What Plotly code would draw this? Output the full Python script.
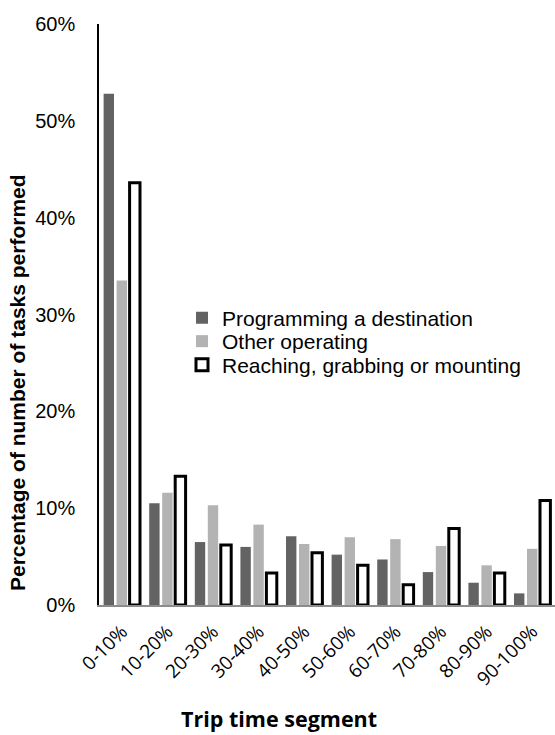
import plotly.graph_objects as go

categories = ["0-10%", "10-20%", "20-30%", "30-40%", "40-50%",
              "50-60%", "60-70%", "70-80%", "80-90%", "90-100%"]
programming = [52.8, 10.5, 6.5, 6.0, 7.1, 5.2, 4.7, 3.4, 2.3, 1.2]
other_operating = [33.5, 11.6, 10.3, 8.3, 6.3, 7.0, 6.8, 6.1, 4.1, 5.8]
reaching = [43.6, 13.3, 6.2, 3.3, 5.4, 4.1, 2.1, 7.9, 3.3, 10.8]
y_ticks = [0, 10, 20, 30, 40, 50, 60]
y_tick_labels = ["0%", "10%", "20%", "30%", "40%", "50%", "60%"]

L, T, PW, PH = 99, 24, 456, 581  # plot area in px

fig = go.Figure()
fig.add_trace(go.Bar(x=categories, y=programming, name="Programming a destination",
                     marker=dict(color="#636363", line=dict(width=0)), legend="legend"))
fig.add_trace(go.Bar(x=categories, y=other_operating, name="Other operating",
                     marker=dict(color="#b3b3b3", line=dict(width=0)), legend="legend2"))
fig.add_trace(go.Bar(x=categories, y=reaching, name="Reaching, grabbing or mounting",
                     marker=dict(color="#ffffff", line=dict(color="#000000", width=3)),
                     legend="legend3"))

def leg(ycenter):
    return dict(x=(182 - L) / PW, y=(T + PH - ycenter) / PH, xanchor="left", yanchor="middle",
                font=dict(family="Liberation Sans, Arial", size=21, color="#000"),
                bgcolor="rgba(0,0,0,0)", itemwidth=30, tracegroupgap=0)

fig.update_layout(
    width=555, height=735,
    margin=dict(l=L, r=555 - L - PW, t=T, b=735 - T - PH, autoexpand=False),
    paper_bgcolor="white", plot_bgcolor="white",
    barmode="group", bargap=0.145, bargroupgap=0.2,
    showlegend=True,
    legend=leg(318), legend2=leg(341.5), legend3=leg(365),
    font=dict(family="Liberation Sans, Arial", color="#000"),
)
fig.update_yaxes(range=[0, 60], tickvals=y_ticks, ticktext=y_tick_labels,
                 showgrid=False, zeroline=False, showline=True, linecolor="#000",
                 linewidth=1.5, ticks="", ticklabelstandoff=18, automargin=False,
                 tickfont=dict(family="Liberation Sans, Arial", size=20, color="#000"))
fig.update_xaxes(showgrid=False, showline=True, linecolor="#8c8c8c", linewidth=2,
                 ticks="", tickangle=-45, ticklabelstandoff=6, automargin=False,
                 tickfont=dict(family="Open Sans", size=19, color="#000"))

fig.add_annotation(text="<b>Percentage of number of tasks performed</b>",
                   xref="paper", yref="paper", x=(17 - L) / PW, y=(T + PH - 383) / PH,
                   textangle=-90, showarrow=False, xanchor="center", yanchor="middle",
                   font=dict(family="Liberation Sans, Arial", size=21, color="#000"))
fig.add_annotation(text="<b>Trip time segment</b>",
                   xref="paper", yref="paper", x=(279 - L) / PW, y=(T + PH - 718) / PH,
                   showarrow=False, xanchor="center", yanchor="middle",
                   font=dict(family="Open Sans", size=21.5, color="#000"))

fig.write_html("out.html", config={"displayModeBar": False},
               post_script="document.body.style.margin='0';document.body.style.overflow='hidden';")
